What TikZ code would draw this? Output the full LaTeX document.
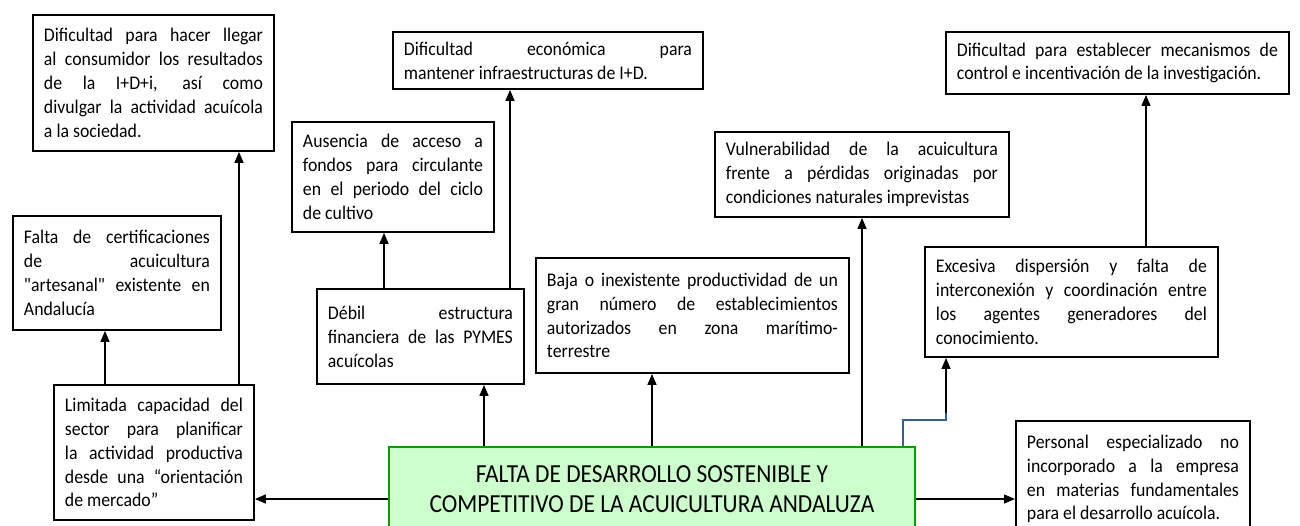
\documentclass[tikz,border=0pt]{standalone}
\usepackage{fontspec}
\setmainfont{Carlito}[Ligatures=TeXOff, FakeStretch=0.92]
\newfontfamily\titlefont{Carlito}[FakeStretch=0.9]
\usetikzlibrary{arrows.meta}

\definecolor{mainfill}{HTML}{CCFFCC}
\definecolor{mainline}{HTML}{00A000}
\definecolor{linkblue}{HTML}{2F5FA0}

\begin{document}
\begin{tikzpicture}[
  x=0.02cm, y=-0.02cm,
  causenode/.style={rectangle, draw, line width=1.1pt, anchor=north west, inner xsep=0.22cm, inner ysep=0pt, align=justify, font=\fontsize{11}{13.6}\selectfont},
  mainnode/.style={rectangle, draw=mainline, fill=mainfill, line width=1.1pt, anchor=north west, minimum width=10.52cm, minimum height=1.7cm, align=center, font=\titlefont\fontsize{14.8}{17}\selectfont},
  arrow/.style={-{Triangle[length=2.2mm,width=1.8mm]}, line width=0.8pt},
  bluelink/.style={linkblue, line width=1.1pt}
]
\clip (0,0) rectangle (1300,525);

% Central problem
\node[mainnode] (falta) at (388,446) {FALTA DE DESARROLLO SOSTENIBLE Y\\COMPETITIVO DE LA ACUICULTURA ANDALUZA};

% Cause nodes
\node[causenode, text width=4.38cm, minimum height=2.72cm] (llegar) at (32,14) {Dificultad para hacer llegar\linebreak al consumidor los resultados\linebreak de la I+D+i, así como\linebreak divulgar la actividad acuícola\linebreak a la sociedad.};
\node[causenode, text width=3.72cm, minimum height=2.28cm] (certif) at (12,215) {Falta de certificaciones\linebreak de acuicultura\linebreak "artesanal" existente en\linebreak Andalucía};
\node[causenode, text width=3.56cm, minimum height=2.70cm] (limitada) at (53,384) {Limitada capacidad del\linebreak sector para planificar\linebreak la actividad productiva\linebreak desde una “orientación\linebreak de mercado”};
\node[causenode, text width=3.60cm, minimum height=2.20cm] (fondos) at (291,121) {Ausencia de acceso a\linebreak fondos para circulante\linebreak en el periodo del ciclo\linebreak de cultivo};
\node[causenode, text width=5.76cm, minimum height=1.14cm] (infra) at (392,31) {Dificultad económica para\linebreak mantener infraestructuras de I+D.};
\node[causenode, text width=3.70cm, minimum height=1.90cm] (debil) at (316,288) {Débil estructura\linebreak financiera de las PYMES\linebreak acuícolas};
\node[causenode, text width=5.82cm, minimum height=2.30cm] (baja) at (535,257) {Baja o inexistente productividad de un\linebreak gran número de establecimientos\linebreak autorizados en zona marítimo-\linebreak terrestre};
\node[causenode, text width=5.44cm, minimum height=1.70cm] (vulner) at (714,131) {Vulnerabilidad de la acuicultura\linebreak frente a pérdidas originadas por\linebreak condiciones naturales imprevistas};
\node[causenode, text width=6.42cm, minimum height=1.24cm] (control) at (945,31) {Dificultad para establecer mecanismos de\linebreak control e incentivación de la investigación.};
\node[causenode, text width=5.42cm, minimum height=2.20cm] (disper) at (924,246) {Excesiva dispersión y falta de\linebreak interconexión y coordinación entre\linebreak los agentes generadores del\linebreak conocimiento.};
\node[causenode, text width=4.24cm, minimum height=2.32cm] (personal) at (1015,420) {Personal especializado no\linebreak incorporado a la empresa\linebreak en materias fundamentales\linebreak para el desarrollo acuícola.};

% Arrows
\draw[arrow] (falta.west |- 0,499) -- (limitada.east |- 0,499);
\draw[arrow] (falta.east |- 0,499) -- (personal.west |- 0,499);
\draw[arrow] (limitada.north -| 105,0) -- (certif.south -| 105,0);
\draw[arrow] (limitada.north -| 239,0) -- (llegar.south -| 239,0);
\draw[arrow] (falta.north -| 484,0) -- (debil.south -| 484,0);
\draw[arrow] (debil.north -| 384,0) -- (fondos.south -| 384,0);
\draw[arrow] (debil.north -| 510,0) -- (infra.south -| 510,0);
\draw[arrow] (falta.north -| 652,0) -- (baja.south -| 652,0);
\draw[arrow] (falta.north -| 862,0) -- (vulner.south -| 862,0);
\draw[arrow] (disper.north -| 1146,0) -- (control.south -| 1146,0);

% Blue link and its arrow
\coordinate (bend) at (946,393);
\coordinate (kink) at (946,413);
\draw[bluelink] (falta.north -| 903,0) |- (bend |- 0,420) -- (bend);
\draw[arrow] (kink) -- (disper.south -| kink);

\end{tikzpicture}
\end{document}
